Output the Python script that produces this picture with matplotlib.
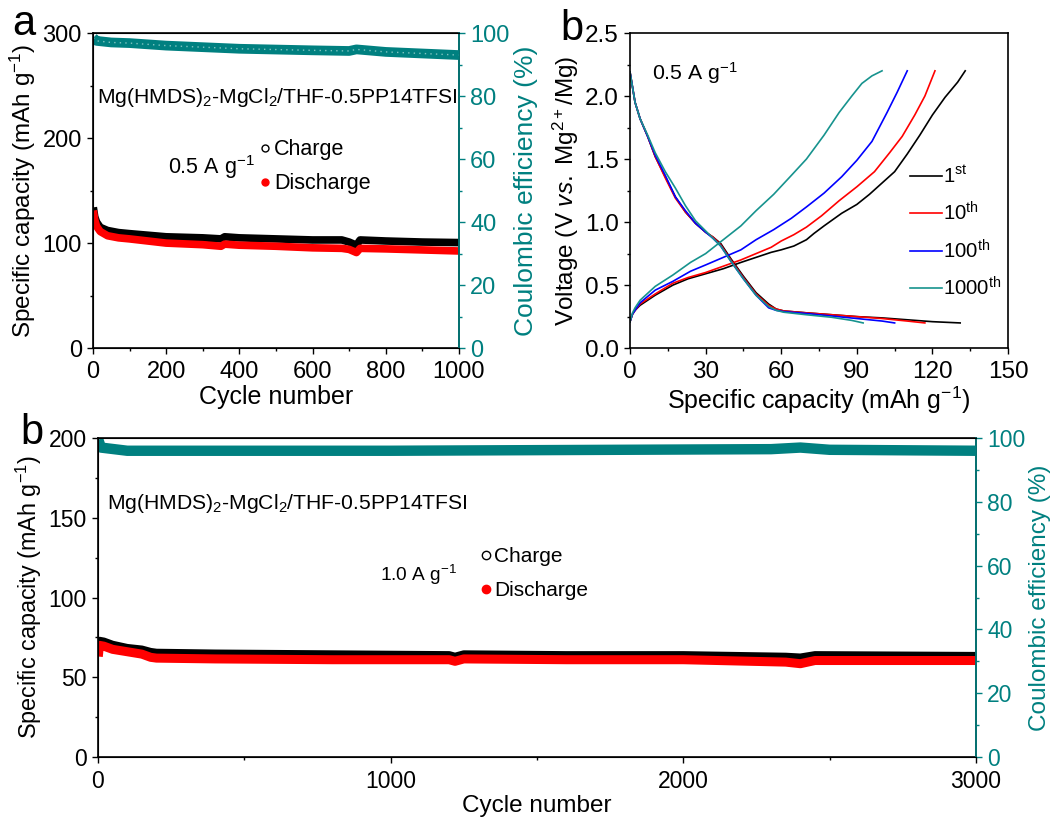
import matplotlib
matplotlib.use('Agg')
import matplotlib.pyplot as plt
from matplotlib.lines import Line2D
from matplotlib.ticker import MultipleLocator, FormatStrFormatter

plt.rcParams['font.family'] = ['Liberation Sans', 'DejaVu Sans']
plt.rcParams['mathtext.fontset'] = 'custom'
plt.rcParams['mathtext.rm'] = 'Liberation Sans'
plt.rcParams['mathtext.it'] = 'Liberation Sans:italic'
plt.rcParams['mathtext.bf'] = 'Liberation Sans:bold'

TEAL = '#008080'

# panel a: 0.5 A/g cycling
a_cycle = [1, 5, 10, 20, 40, 70, 100, 200, 300, 350, 360, 400, 500, 600, 680, 700, 720, 730, 800, 900, 1000]
a_charge = [134, 125, 120, 115, 112, 110, 109, 106, 105, 104, 106, 105, 104, 103, 103, 101, 98, 103, 102, 101, 100.5]
a_discharge = [131, 122, 116, 111, 107, 105, 104, 100, 98.5, 97, 99, 98, 97, 95.5, 95, 94, 91, 95, 94.5, 93.5, 92.5]
a_ce_cycle = [1, 10, 50, 100, 200, 400, 600, 700, 720, 800, 1000]
a_ce = [98.5, 97.5, 97, 96.8, 96, 95, 94.5, 94.3, 94.8, 94, 93]

# panel b (top right): voltage profiles
b_labels = ['1$^{\\rm st}$', '10$^{\\rm th}$', '100$^{\\rm th}$', '1000$^{\\rm th}$']
b_colors = ['black', '#ff0000', '#0000ff', '#17938e']
dis_cap_1 = [0, 2, 4, 7, 10, 14, 18, 22, 26, 30, 33, 36, 40, 45, 50, 55, 58, 61, 70, 80, 90, 100, 110, 120, 131]
dis_v_1 = [2.19, 1.95, 1.82, 1.68, 1.52, 1.36, 1.20, 1.08, 0.99, 0.92, 0.88, 0.83, 0.71, 0.57, 0.44, 0.35, 0.31, 0.295, 0.28, 0.265, 0.25, 0.24, 0.225, 0.21, 0.20]
dis_cap_10 = [0, 2, 4, 7, 10, 14, 18, 22, 26, 30, 33, 36, 40, 45, 50, 55, 58, 61, 70, 80, 90, 100, 110, 117]
dis_v_10 = [2.19, 1.95, 1.82, 1.68, 1.52, 1.35, 1.19, 1.08, 0.99, 0.92, 0.88, 0.82, 0.70, 0.56, 0.43, 0.34, 0.31, 0.295, 0.28, 0.265, 0.25, 0.235, 0.215, 0.20]
dis_cap_100 = [0, 2, 4, 7, 10, 14, 18, 22, 26, 30, 33, 36, 40, 45, 50, 55, 58, 61, 70, 80, 90, 100, 105]
dis_v_100 = [2.19, 1.95, 1.82, 1.68, 1.53, 1.37, 1.20, 1.09, 0.99, 0.92, 0.87, 0.81, 0.69, 0.55, 0.42, 0.32, 0.30, 0.29, 0.275, 0.255, 0.235, 0.215, 0.20]
dis_cap_1000 = [0, 2, 4, 7, 10, 14, 18, 22, 26, 30, 33, 36, 40, 45, 50, 55, 58, 61, 70, 80, 88, 92.5]
dis_v_1000 = [2.19, 1.95, 1.82, 1.69, 1.55, 1.40, 1.27, 1.13, 1.01, 0.93, 0.87, 0.81, 0.69, 0.55, 0.42, 0.33, 0.30, 0.285, 0.265, 0.245, 0.22, 0.20]
chg_cap_1 = [0, 1, 2, 4, 10, 17, 23, 30, 37, 44, 50, 56, 60, 65, 70, 73, 77, 84, 90, 95, 100, 105, 110, 115, 120, 125, 130, 133]
chg_v_1 = [0.21, 0.27, 0.30, 0.34, 0.42, 0.50, 0.55, 0.59, 0.63, 0.68, 0.72, 0.76, 0.78, 0.81, 0.86, 0.91, 0.97, 1.07, 1.14, 1.22, 1.31, 1.40, 1.54, 1.69, 1.85, 1.99, 2.11, 2.2]
chg_cap_10 = [0, 1, 2, 4, 10, 17, 23, 30, 37, 44, 50, 56, 60, 65, 70, 76, 83, 90, 97, 103, 108, 113, 117, 121]
chg_v_10 = [0.21, 0.27, 0.30, 0.35, 0.43, 0.515, 0.56, 0.60, 0.65, 0.70, 0.75, 0.80, 0.85, 0.90, 0.96, 1.05, 1.17, 1.28, 1.40, 1.55, 1.68, 1.85, 2.0, 2.2]
chg_cap_100 = [0, 1, 2, 4, 10, 17, 24, 30, 37, 44, 50, 57, 64, 70, 77, 84, 90, 96, 102, 106, 110]
chg_v_100 = [0.21, 0.27, 0.30, 0.36, 0.46, 0.53, 0.61, 0.66, 0.72, 0.78, 0.86, 0.94, 1.03, 1.12, 1.23, 1.36, 1.49, 1.64, 1.87, 2.03, 2.2]
chg_cap_1000 = [0, 1, 2, 4, 10, 17, 24, 30, 37, 44, 50, 57, 64, 70, 77, 83, 88, 92, 96, 100]
chg_v_1000 = [0.21, 0.28, 0.32, 0.38, 0.49, 0.58, 0.68, 0.75, 0.86, 0.97, 1.09, 1.22, 1.37, 1.50, 1.69, 1.87, 2.0, 2.1, 2.16, 2.2]
dis_caps = [dis_cap_1, dis_cap_10, dis_cap_100, dis_cap_1000]
dis_vs = [dis_v_1, dis_v_10, dis_v_100, dis_v_1000]
chg_caps = [chg_cap_1, chg_cap_10, chg_cap_100, chg_cap_1000]
chg_vs = [chg_v_1, chg_v_10, chg_v_100, chg_v_1000]

# bottom panel: 1.0 A/g cycling
c_cycle = [1, 5, 20, 50, 100, 150, 180, 200, 400, 800, 1200, 1220, 1250, 1600, 2000, 2350, 2400, 2450, 3000]
c_charge = [72, 73, 72.5, 70.5, 68.5, 67.5, 66, 65.5, 65, 64.5, 64, 63, 64.5, 64, 64, 63, 62.5, 64, 63.5]
c_discharge = [63, 70, 69.5, 67.5, 66, 64.5, 62.5, 62, 61.5, 61, 61, 60, 61.5, 61, 61, 59.5, 58.5, 60.5, 60.5]
c_ce_cycle = [1, 10, 100, 1000, 2300, 2400, 2500, 3000]
c_ce = [99.5, 97, 96, 96, 96.5, 97, 96.3, 96]

fig = plt.figure(figsize=(10.56, 8.25), dpi=100)


def style(ax, right=None, fs=17):
    ax.tick_params(which='both', direction='out', labelsize=fs, width=1)
    ax.tick_params(which='major', length=4.5)
    ax.tick_params(which='minor', length=2.5)
    ax.tick_params(axis='x', which='both', pad=5)
    for s in ax.spines.values():
        s.set_linewidth(1.2)
    if right is not None:
        right.tick_params(which='both', direction='out', labelsize=fs, width=1, colors=TEAL)
        right.tick_params(which='major', length=4.5)
        right.tick_params(which='minor', length=2.5)
        right.spines['right'].set_color(TEAL)
        right.spines['right'].set_linewidth(1.2)


# ---- panel a ----
ax1 = fig.add_axes([0.088, 0.578, 0.3466, 0.382])
ax1r = ax1.twinx()
ax1.plot(a_cycle, a_charge, color='black', lw=5.5, solid_capstyle='butt')
ax1.plot(a_cycle, a_discharge, color='#ff0000', lw=5.5, solid_capstyle='butt')
ax1r.plot(a_ce_cycle, a_ce, color=TEAL, lw=7, solid_capstyle='butt')
ax1r.plot(a_ce_cycle, a_ce, color='#7fc4c0', lw=1, ls=(0, (1, 3)))
ax1.set_xlim(0, 1000)
ax1.set_ylim(0, 300)
ax1r.set_ylim(0, 100)
ax1.xaxis.set_major_locator(MultipleLocator(200))
ax1.xaxis.set_minor_locator(MultipleLocator(100))
ax1.yaxis.set_major_locator(MultipleLocator(100))
ax1.yaxis.set_minor_locator(MultipleLocator(50))
ax1r.yaxis.set_major_locator(MultipleLocator(20))
ax1r.yaxis.set_minor_locator(MultipleLocator(10))
style(ax1, ax1r, fs=17)
ax1.set_xlabel('Cycle number', fontsize=18, labelpad=1)
ax1.set_ylabel('Specific capacity (mAh g$^{-1}$)', fontsize=17.5, labelpad=3)
ax1r.set_ylabel('Coulombic efficiency (%)', fontsize=19, color=TEAL, labelpad=3)
ax1.text(0.012, 0.794, 'Mg(HMDS)$_2$-MgCl$_2$/THF-0.5PP14TFSI', transform=ax1.transAxes,
         fontsize=15.2, va='center', ha='left')
ax1.text(0.205, 0.575, '0.5 A g$^{-1}$', transform=ax1.transAxes, fontsize=15.5, va='center')
h_a = [Line2D([], [], ls='none', marker='o', mfc='white', mec='black', ms=5, mew=1),
       Line2D([], [], ls='none', marker='o', mfc='#ff0000', mec='#ff0000', ms=5)]
ax1.legend(h_a, ['Charge', 'Discharge'], loc='upper left', bbox_to_anchor=(0.43, 0.69),
           frameon=False, fontsize=15.5, handlelength=0.6, handletextpad=0.1,
           labelspacing=0.6, borderaxespad=0)

# ---- panel b (top right) ----
ax2 = fig.add_axes([0.5966, 0.578, 0.358, 0.382])
for i in range(4):
    ax2.plot(chg_caps[i], chg_vs[i], color=b_colors[i], lw=1.2)
    ax2.plot(dis_caps[i], dis_vs[i], color=b_colors[i], lw=1.2, label=b_labels[i])
ax2.set_xlim(0, 150)
ax2.set_ylim(0, 2.5)
ax2.xaxis.set_major_locator(MultipleLocator(30))
ax2.xaxis.set_minor_locator(MultipleLocator(15))
ax2.yaxis.set_major_locator(MultipleLocator(0.5))
ax2.yaxis.set_minor_locator(MultipleLocator(0.25))
ax2.yaxis.set_major_formatter(FormatStrFormatter('%.1f'))
style(ax2, fs=17.5)
ax2.set_xlabel('Specific capacity (mAh g$^{-1}$)', fontsize=18, labelpad=1)
ax2.set_ylabel('Voltage (V $\\it{vs.}$ Mg$^{2+}$/Mg)', fontsize=17.5, labelpad=3)
ax2.text(0.058, 0.873, '0.5 A g$^{-1}$', transform=ax2.transAxes, fontsize=15.3, va='center')
ax2.legend(loc='upper left', bbox_to_anchor=(0.72, 0.605), frameon=False, fontsize=14.7,
           handlelength=1.55, handletextpad=0.05, labelspacing=0.7, borderaxespad=0)

# ---- bottom panel ----
ax3 = fig.add_axes([0.0928, 0.0824, 0.8314, 0.3867])
ax3r = ax3.twinx()
ax3.plot(c_cycle, c_charge, color='black', lw=5.5, solid_capstyle='butt')
ax3.plot(c_cycle, c_discharge, color='#ff0000', lw=6.5, solid_capstyle='butt')
ax3r.plot(c_ce_cycle, c_ce, color=TEAL, lw=7.5, solid_capstyle='butt')
ax3.set_xlim(0, 3000)
ax3.set_ylim(0, 200)
ax3r.set_ylim(0, 100)
ax3.xaxis.set_major_locator(MultipleLocator(1000))
ax3.xaxis.set_minor_locator(MultipleLocator(500))
ax3.yaxis.set_major_locator(MultipleLocator(50))
ax3.yaxis.set_minor_locator(MultipleLocator(25))
ax3r.yaxis.set_major_locator(MultipleLocator(20))
ax3r.yaxis.set_minor_locator(MultipleLocator(10))
style(ax3, ax3r, fs=16.5)
ax3.set_xlabel('Cycle number', fontsize=17.5, labelpad=1)
ax3.set_ylabel('Specific capacity (mAh g$^{-1}$)', fontsize=16.8, labelpad=3)
ax3r.set_ylabel('Coulombic efficiency (%)', fontsize=17.5, color=TEAL, labelpad=3)
ax3.text(0.01, 0.796, 'Mg(HMDS)$_2$-MgCl$_2$/THF-0.5PP14TFSI', transform=ax3.transAxes,
         fontsize=15.2, va='center', ha='left')
ax3.text(0.321, 0.57, '1.0 A g$^{-1}$', transform=ax3.transAxes, fontsize=13.8, va='center')
h_c = [Line2D([], [], ls='none', marker='o', mfc='white', mec='black', ms=6, mew=1),
       Line2D([], [], ls='none', marker='o', mfc='#ff0000', mec='#ff0000', ms=6)]
ax3.legend(h_c, ['Charge', 'Discharge'], loc='upper left', bbox_to_anchor=(0.425, 0.685),
           frameon=False, fontsize=15, handlelength=0.6, handletextpad=0.1,
           labelspacing=0.75, borderaxespad=0)

# panel letters
fig.text(0.012, 0.958, 'a', fontsize=30, va='baseline')
fig.text(0.531, 0.951, 'b', fontsize=30, va='baseline')
fig.text(0.019, 0.462, 'b', fontsize=30, va='baseline')

fig.savefig('out.png', dpi=100)
